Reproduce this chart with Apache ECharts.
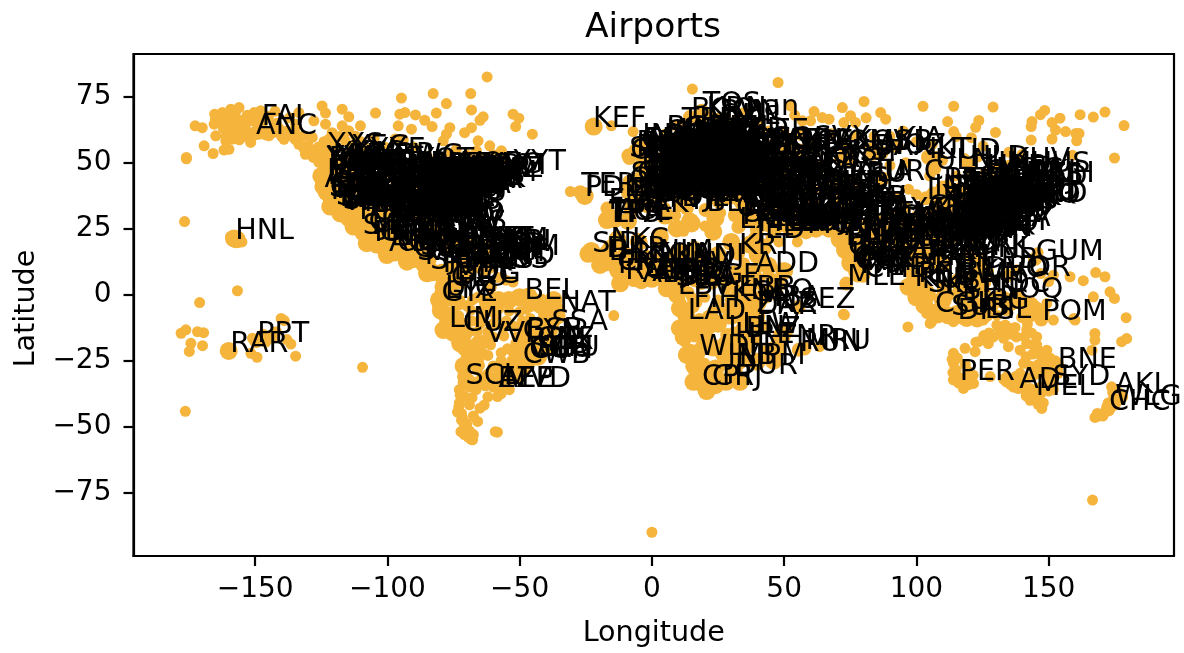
<!DOCTYPE html>
<html><head><meta charset="utf-8">
<style>html,body{margin:0;padding:0;background:#fff}#c{width:1184px;height:653px}</style>
<script src="https://cdn.jsdelivr.net/npm/echarts@6/dist/echarts.min.js"></script>
</head><body><div id="c"></div>
<script>
const xTicks=[-150,-100,-50,0,50,100,150];
const yTicks=[-75,-50,-25,0,25,50,75];
// Labelled airports: code, longitude, latitude
const labelsNorthAmerica=[["FAI",-147.9,64.8],["ANC",-150,61.2],["HNL",-157.9,21.3],["YEG",-113.6,53.3],["YWG",-97.2,49.9],["YYT",-52.7,47.6],["YUL",-73.7,45.5],["YYZ",-79.6,43.7],["YVR",-123.2,49.2],["YYC",-114,51.1],["YOW",-75.7,45.3],["YHZ",-63.5,44.9],["YQB",-71.4,46.8],["YQT",-89.3,48.4],["YXE",-106.7,52.2],["YQR",-104.7,50.4],["SEA",-122.3,47.4],["PDX",-122.6,45.6],["SFO",-122.4,37.6],["OAK",-122.2,37.7],["SJC",-121.9,37.4],["SMF",-121.6,38.7],["LAX",-118.4,33.9],["ONT",-117.6,34.1],["SAN",-117.2,32.7],["LAS",-115.2,36.1],["PHX",-112,33.4],["TUS",-110.9,32.1],["SLC",-112,40.8],["BOI",-116.2,43.6],["GEG",-117.5,47.6],["MSO",-114.1,46.9],["BIL",-108.5,45.8],["RNO",-119.8,39.5],["FAT",-119.7,36.8],["DEN",-104.7,39.9],["COS",-104.7,38.8],["ABQ",-106.6,35],["ELP",-106.4,31.8],["RAP",-103.1,44],["BIS",-100.7,46.8],["FAR",-96.8,46.9],["FSD",-96.7,43.6],["OMA",-95.9,41.3],["DSM",-93.7,41.5],["MSP",-93.2,44.9],["MCI",-94.7,39.3],["ICT",-97.4,37.6],["OKC",-97.6,35.4],["TUL",-95.9,36.2],["DFW",-97,32.9],["DAL",-96.9,32.8],["AUS",-97.7,30.2],["SAT",-98.5,29.5],["IAH",-95.3,30],["HOU",-95.3,29.6],["MSY",-90.3,30],["BTR",-91.1,30.5],["LIT",-92.2,34.7],["MEM",-90,35],["STL",-90.4,38.7],["ORD",-87.9,42],["MDW",-87.8,41.8],["MKE",-87.9,42.9],["MSN",-89.3,43.1],["GRR",-85.5,42.9],["DTW",-83.4,42.2],["IND",-86.3,39.7],["CVG",-84.7,39],["SDF",-85.7,38.2],["BNA",-86.7,36.1],["BHM",-86.8,33.6],["ATL",-84.4,33.6],["JAX",-81.7,30.5],["MCO",-81.3,28.4],["TPA",-82.5,28],["RSW",-81.8,26.5],["PBI",-80.1,26.7],["FLL",-80.2,26.1],["MIA",-80.3,25.8],["CHS",-80,32.9],["CLT",-80.9,35.2],["RDU",-78.8,35.9],["ORF",-76.2,36.9],["RIC",-77.3,37.5],["DCA",-77,38.9],["IAD",-77.5,38.9],["BWI",-76.7,39.2],["PHL",-75.2,39.9],["PIT",-80.2,40.5],["CMH",-82.9,40],["CLE",-81.8,41.4],["BUF",-78.7,42.9],["ROC",-77.7,43.1],["SYR",-76.1,43.1],["ALB",-73.8,42.7],["EWR",-74.2,40.7],["JFK",-73.8,40.6],["LGA",-73.9,40.8],["BDL",-72.7,41.9],["BOS",-71,42.4],["PVD",-71.4,41.7],["PWM",-70.3,43.6],["BTV",-73.2,44.5],["BGR",-68.8,44.8],["SJD",-109.7,23.2],["PVR",-105.3,20.7],["GDL",-103.3,20.5],["MTY",-100.1,25.8],["MEX",-99.1,19.4],["ACA",-99.8,16.8],["CUN",-86.9,21],["MID",-89.7,21],["HAV",-82.4,23],["MBJ",-77.9,18.5],["KIN",-76.8,17.9],["NAS",-77.5,25],["PAP",-72.3,18.6],["SDQ",-69.7,18.4],["PUJ",-68.4,18.6],["SJU",-66,18.4],["STT",-65,18.3],["SXM",-63.1,18],["ANU",-61.8,17.1],["PTP",-61.5,16.3],["DOM",-61.3,15.5],["FDF",-61,14.6],["BGI",-59.5,13.1],["POS",-61.3,10.6],["GUA",-90.5,14.6],["SAL",-89.1,13.4],["SAP",-87.9,15.5],["TGU",-87.2,14.1],["MGA",-86.2,12.1],["SJO",-84.2,10],["PTY",-79.4,9.1]];
const labelsUsExtra=[["ACV",-124.1,41],["MFR",-122.9,42.4],["EUG",-123.2,44.1],["RDM",-121.2,44.3],["PSC",-119.1,46.3],["YKM",-120.5,46.6],["BLI",-122.5,48.8],["SBA",-119.8,34.4],["PSP",-116.5,33.8],["BUR",-118.4,34.2],["SNA",-117.9,33.7],["MRY",-121.8,36.6],["IDA",-112,43.5],["TWF",-114.5,42.5],["BZN",-111.2,45.8],["GTF",-111.4,47.5],["HLN",-112,46.6],["JAC",-110.7,43.6],["COD",-109,44.5],["CPR",-106.5,42.9],["GJT",-108.5,39.1],["ASE",-106.9,39.2],["FLG",-111.7,35.1],["SAF",-106.1,35.6],["AMA",-101.7,35.2],["LBB",-101.8,33.7],["MAF",-102.2,31.9],["LAN",-84.6,42.8],["TVC",-85.6,44.7],["MQT",-87.4,46.5],["DLH",-92.2,46.8],["GRB",-88.1,44.5],["ATW",-88.5,44.3],["CID",-91.7,41.9],["PIA",-89.7,40.7],["SPI",-89.7,39.8],["EVV",-87.5,38],["LEX",-84.6,38],["TYS",-84,35.8],["CHA",-85.2,35],["GSP",-82.2,34.9],["SAV",-81.2,32.1],["AGS",-82,33.4],["CAE",-81.1,33.9],["GSO",-79.9,36.1],["ROA",-80,37.3],["CRW",-81.6,38.4],["DAY",-84.2,39.9],["CAK",-81.4,40.9],["ERI",-80.2,42.1],["MDT",-76.8,40.2],["ABE",-75.4,40.7],["AVP",-75.7,41.3],["HPN",-73.7,41.1],["ISP",-73.1,40.8],["MHT",-71.4,42.9],["ACK",-70.1,41.3],["JAN",-90.1,32.3],["MOB",-88.2,30.7],["PNS",-87.2,30.5],["VPS",-86.5,30.5],["TLH",-84.4,30.4],["SRQ",-82.6,27.4],["EYW",-81.8,24.6],["SHV",-93.8,32.4],["LFT",-92,30.2],["CRP",-97.5,27.8],["HRL",-97.7,26.2],["MFE",-98.2,26.2],["XNA",-94.3,36.3],["SGF",-93.4,37.2],["YQG",-83,42.3],["YHM",-79.9,43.2],["YXU",-81.2,43],["YSB",-81,46.6],["YQM",-64.7,46.1],["YYG",-63.1,46.3],["YFC",-66.5,45.9],["YLW",-119.4,49.9],["YXS",-122.7,53.9],["YYJ",-123.4,48.6],["YKA",-120.4,50.7],["TIJ",-117,32.5],["HMO",-111,29.1],["CUU",-106,28.7],["CUL",-107.5,24.8],["MZT",-106.3,23.2],["BJX",-101.5,20.9],["TAM",-97.9,22.3],["VER",-96.2,19.1],["OAX",-96.7,17],["TGZ",-93,16.8],["BZE",-88.3,17.5],["RTB",-86.5,16.3],["SKB",-62.7,17.3],["UVF",-61,13.7],["GND",-61.8,12],["CUR",-69,12.2],["AUA",-70,12.5]];
const labelsSouthAmerica=[["BOG",-74.1,4.7],["MDE",-75.4,6.2],["CLO",-76.4,3.5],["CTG",-75.5,10.4],["BAQ",-74.8,10.9],["CCS",-67,10.6],["MAR",-71.7,10.6],["UIO",-78.4,-0.1],["GYE",-79.9,-2.2],["LTX",-78.6,-0.9],["LIM",-77.1,-12],["CUZ",-71.9,-13.5],["VVI",-63.1,-17.6],["SCL",-70.8,-33.4],["EZE",-58.5,-34.8],["AEP",-58.4,-34.6],["MVD",-56,-34.8],["BEL",-48.5,-1.4],["NAT",-35.3,-5.8],["SSA",-38.3,-12.9],["BSB",-47.9,-15.9],["GIG",-43.2,-22.8],["SDU",-43.2,-22.9],["GRU",-46.5,-23.4],["CGH",-46.7,-23.6],["VCP",-47.1,-23],["CNF",-43.9,-19.6],["CWB",-49.2,-25.5],["GYN",-49.2,-16.6],["VIX",-40.3,-20.3]];
const labelsEurope=[["KEF",-22.6,64],["TER",-27.1,38.8],["PDL",-25.7,37.7],["LIS",-9.1,38.8],["OPO",-8.7,41.2],["FAO",-8,37],["FNC",-16.8,32.7],["TFS",-16.6,28],["TFN",-16.3,28.5],["LPA",-15.4,28],["FUE",-13.9,28.5],["ACE",-13.6,29],["SID",-22.9,16.7],["DUB",-6.3,53.4],["ORK",-8.5,51.8],["SNN",-8.9,52.7],["BFS",-6.2,54.7],["GLA",-4.4,55.9],["EDI",-3.4,55.9],["ABZ",-2.2,57.2],["INV",-4,57.5],["NCL",-1.7,55],["MAN",-2.3,53.4],["LPL",-2.8,53.3],["BHX",-1.7,52.5],["BRS",-2.7,51.4],["LHR",-0.5,51.5],["LGW",-0.2,51.1],["STN",0.2,51.9],["LTN",-0.4,51.9],["CWL",-3.3,51.4],["AMS",4.8,52.3],["RTM",4.4,51.9],["BRU",4.5,50.9],["CRL",4.5,50.5],["LUX",6.2,49.6],["CDG",2.5,49],["ORY",2.4,48.7],["NTE",-1.6,47.2],["BOD",-0.7,44.8],["TLS",1.4,43.6],["LYS",5.1,45.7],["MRS",5.2,43.4],["NCE",7.2,43.7],["GVA",6.1,46.2],["ZRH",8.5,47.5],["BSL",7.5,47.6],["BIO",-2.9,43.3],["MAD",-3.6,40.5],["BCN",2.1,41.3],["VLC",-0.5,39.5],["ALC",-0.6,38.3],["SVQ",-5.9,37.4],["AGP",-4.5,36.7],["PMI",2.7,39.6],["IBZ",1.4,38.9],["CMN",-7.6,33.4],["RAK",-8,31.6],["TNG",-5.9,35.7],["ALG",3.2,36.7],["ORN",-0.6,35.6],["TUN",10.2,36.9],["DJE",10.8,33.9],["TIP",13.2,32.7],["BEN",20.3,32.1],["MLA",14.5,35.9],["FCO",12.2,41.8],["CIA",12.6,41.8],["MXP",8.7,45.6],["LIN",9.3,45.4],["BGY",9.7,45.7],["VCE",12.4,45.5],["BLQ",11.3,44.5],["NAP",14.3,40.9],["PMO",13.1,38.2],["CTA",15.1,37.5],["CAG",9.1,39.3],["FRA",8.6,50],["MUC",11.8,48.4],["STR",9.2,48.7],["CGN",7.1,50.9],["DUS",6.8,51.3],["HAM",10,53.6],["HAJ",9.7,52.5],["TXL",13.3,52.6],["SXF",13.5,52.4],["LEJ",12.2,51.4],["NUE",11.1,49.5],["VIE",16.6,48.1],["SZG",13,47.8],["INN",11.3,47.3],["PRG",14.3,50.1],["BRQ",16.7,49.2],["WAW",21,52.2],["KRK",19.8,50.1],["GDN",18.5,54.4],["WRO",16.9,51.1],["BUD",19.3,47.4],["BTS",17.2,48.2],["LJU",14.5,46.2],["ZAG",16.1,45.7],["BEG",20.3,44.8],["SJJ",18.3,43.8],["DBV",18.3,42.6],["TIA",19.7,41.4],["SKP",21.6,42],["SOF",23.4,42.7],["VAR",27.8,43.2],["OTP",26.1,44.6],["CLJ",23.7,46.8],["KIV",28.9,46.9],["ATH",23.9,37.9],["SKG",23,40.5],["HER",25.2,35.3],["RHO",28.1,36.4],["IST",28.8,41],["SAW",29.3,40.9],["ESB",33,40.1],["AYT",30.8,36.9],["ADB",27.2,38.3],["ADA",35.3,37],["LCA",33.6,34.9],["BGO",5.2,60.3],["SVG",5.6,58.9],["OSL",11.1,60.2],["TRD",10.9,63.5],["BOO",14.4,67.3],["TOS",18.9,69.7],["KRN",20.3,67.8],["ARN",17.9,59.7],["GOT",12.3,57.7],["MMX",13.4,55.5],["CPH",12.7,55.6],["BLL",9.2,55.7],["AAL",10,57.1],["HEL",25,60.3],["OUL",25.4,64.9],["RVN",25.8,66.6],["TLL",24.8,59.4],["RIX",23.9,56.9],["VNO",25.3,54.6],["MSQ",28,53.9],["LED",30.3,59.8],["KGD",20.6,54.9],["nan",35,68.5],["AER",39.9,43.4],["KRR",39.2,45],["ROV",39.8,47.3],["MRV",43.1,44.2],["VOG",44.3,48.8],["SVO",37.4,56],["DME",37.9,55.4],["VKO",37.3,55.6],["KBP",30.9,50.3],["IEV",30.5,50.4],["ODS",30.9,46.4],["DNK",35.1,48.4],["SIP",34.1,45.1],["KUF",50.2,53.5],["KZN",49.3,55.6],["UFA",55.9,54.6],["GOJ",44,56.2],["SVX",60.8,56.7],["CEK",61.5,55.3],["OMS",73.3,55],["KSF",75,51.2],["OVB",82.7,55],["KJA",92.5,56.2],["TBS",44.9,41.7],["EVN",44.4,40.1],["GYD",50,40.5],["ASB",58.4,38],["TAS",69.3,41.3],["ALA",77,43.4],["TSE",71.5,51],["FRU",74.5,43.1],["URC",87.5,43.9],["KRO",64,48.6]];
const labelsEuropeExtra=[["DTM",7.6,51.5],["PAD",8.6,51.6],["FMO",7.7,52.1],["BRE",8.8,53],["DRS",13.8,51.1],["FDH",9.5,47.7],["EIN",5.4,51.5],["MST",5.8,50.9],["ANR",4.5,51.2],["LIL",3.1,50.6],["BES",-4.4,48.4],["RNS",-1.7,48.1],["BIQ",-1.5,43.5],["MPL",4,43.6],["AJA",8.8,41.9],["BIA",9.5,42.6],["OLB",9.5,40.9],["TRN",7.6,45.2],["GOA",8.8,44.4],["PSA",10.4,43.7],["FLR",11.2,43.8],["BRI",16.8,41.1],["BDS",17.9,40.7],["SPU",16.3,43.5],["ZAD",15.3,44.1],["PUY",13.9,44.9],["TGD",19.3,42.4],["PRN",21,42.6],["TSR",21.3,45.8],["IAS",27.6,47.2],["LWO",23.9,49.8],["KTW",19,50.5],["POZ",16.8,52.4],["RZE",22,50.1],["KSC",21.2,48.7],["OSR",18.1,49.7],["GRZ",15.4,47],["KLU",14.3,46.6],["LNZ",14.2,48.2],["VBY",18.3,57.7],["NRK",16.3,58.6],["BMA",17.9,59.4],["LPI",15.7,58.4],["LEI",-2.4,36.8],["GRX",-3.8,37.2],["SCQ",-8.4,42.9],["OVD",-6,43.6],["SDR",-3.8,43.4],["ZAZ",-1,41.7],["MAH",4.2,39.9],["XRY",-6.1,36.7],["HAU",5.2,59.3],["KRS",8.1,58.2],["TKU",22.3,60.5],["KVD",47,40.7],["ASF",48,46.3],["VOZ",39.2,51.8],["CEE",37.9,59.3],["MCX",47.7,43],["GRV",45.7,43.3],["STW",42.1,45.1],["GDZ",38,44.6],["NBC",52.1,55.6],["BAX",83.6,53.4],["NOZ",86.9,53.8],["SKD",67,39.7],["BHK",64.5,39.8],["DYU",68.8,38.5],["AKX",57.2,50.2],["GUW",51.8,47.1],["SCO",51.1,43.9],["URA",51.5,51.2],["CIT",69.5,42.4]];
const labelsMiddleEastAfrica=[["BEY",35.5,33.8],["DAM",36.5,33.4],["AMM",36,31.7],["TLV",34.9,32],["CAI",31.4,30.1],["HRG",33.8,27.2],["SSH",34.4,28],["LXR",32.7,25.7],["BGW",44.2,33.3],["EBL",44,36.2],["THR",51.3,35.7],["IKA",51.2,35.4],["MHD",59.6,36.2],["SYZ",52.6,29.5],["KWI",48,29.2],["BAH",50.6,26.3],["DMM",49.8,26.5],["DOH",51.6,25.3],["AUH",54.6,24.4],["DXB",55.4,25.3],["SHJ",55.5,25.3],["MCT",58.3,23.6],["RUH",46.7,25],["JED",39.2,21.7],["MED",39.7,24.6],["KRT",32.6,15.6],["ADD",38.8,9],["NKC",-16,18.1],["DKR",-17.5,14.7],["BJL",-16.7,13.3],["CKY",-13.6,9.6],["FNA",-13.2,8.6],["ROB",-10.4,6.2],["ABJ",-3.9,5.3],["BKO",-8,12.5],["OUA",-1.5,12.4],["ACC",-0.2,5.6],["LFW",1.3,6.2],["COO",2.4,6.4],["NIM",2.2,13.5],["LOS",3.3,6.6],["ABV",7.3,9],["KAN",8.5,12],["PHC",7,5],["DLA",9.7,4],["NSI",11.6,3.7],["NDJ",15,12.1],["BGF",18.5,4.4],["LBV",9.4,0.5],["SSG",8.7,3.8],["FIH",15.4,-4.4],["LAD",13.2,-8.9],["KGL",30.1,-2],["EBB",32.4,0],["NBO",36.9,-1.3],["MBA",39.6,-4],["ZNZ",39.2,-6.2],["DAR",39.2,-6.9],["SEZ",55.5,-4.7],["LUN",28.5,-15.3],["LLW",33.8,-14],["BLZ",35,-15.7],["HRE",31.1,-17.9],["TNR",47.5,-18.8],["MRU",57.7,-20.4],["RUN",55.5,-20.9],["WDH",17.5,-22.5],["JNB",28.2,-26.1],["MPM",32.6,-25.9],["DUR",31.1,-29.6],["GRJ",22.4,-34],["CPT",18.6,-34]];
const labelsAsiaPacific=[["KBL",69.2,34.6],["ISB",73.1,33.6],["LHE",74.4,31.5],["KHI",67.2,24.9],["DEL",77.1,28.6],["ATQ",74.8,31.7],["JAI",75.8,26.8],["AMD",72.6,23.1],["BOM",72.9,19.1],["GOI",73.8,15.4],["BLR",77.7,13.2],["HYD",78.4,17.2],["MAA",80.2,13],["COK",76.4,10.2],["TRV",76.9,8.5],["CMB",79.9,7.2],["MLE",73.5,4.2],["CCU",88.4,22.7],["KTM",85.4,27.7],["DAC",90.4,23.8],["RGN",96.1,17],["MDL",95.9,21.7],["LXA",90.9,29.3],["BKK",100.7,13.7],["DMK",100.6,13.9],["CNX",99,18.8],["HKT",98.3,8.1],["VTE",102.6,18],["PNH",104.8,11.5],["REP",103.8,13.4],["SGN",106.7,10.8],["HAN",105.8,21.2],["DAD",108.2,16],["KUL",101.7,2.7],["PEN",100.3,5.3],["SIN",104,1.4],["CGK",106.7,-6.1],["SUB",112.8,-7.4],["DPS",115.2,-8.7],["UPG",119.6,-5.1],["KNO",98.9,3.6],["BPN",116.9,-1.3],["KCH",110.3,1.5],["BWN",114.9,4.9],["BKI",116.1,5.9],["SOQ",131.3,-0.9],["MDC",124.9,1.5],["DVO",125.6,7.1],["CEB",124,10.3],["MNL",121,14.5],["CRK",120.6,15.2],["KMG",102.9,25],["CTU",104,30.6],["CKG",106.6,29.7],["XIY",108.8,34.4],["LHW",103.6,36.5],["INC",106.4,38.3],["HET",111.8,40.9],["PEK",116.6,40.1],["TSN",117.3,39.1],["TNA",117.2,36.9],["TAO",120.4,36.3],["CGO",113.8,34.5],["WUH",114.2,30.8],["CSX",113.2,28.2],["KHN",115.9,28.9],["NKG",118.9,31.7],["HGH",120.4,30.2],["PVG",121.8,31.1],["SHA",121.3,31.2],["XMN",118.1,24.5],["FOC",119.7,26],["CAN",113.3,23.4],["SZX",113.8,22.6],["HKG",113.9,22.3],["MFM",113.6,22.1],["NNG",108.2,22.6],["KWL",110.3,25.2],["HAK",110.5,19.9],["SYX",109.4,18.3],["TPE",121.2,25.1],["KHH",120.4,22.6],["OKA",127.6,26.2],["SHE",123.5,41.6],["DLC",121.5,38.9],["CGQ",125.7,43.9],["HRB",126.2,45.6],["HLD",119.8,49.2],["ULN",106.8,47.8],["IKT",104.4,52.3],["UUD",107.4,51.8],["KHV",135.2,48.5],["UUS",142.7,47],["VVO",132.1,43.4],["FNJ",125.7,39.2],["ICN",126.5,37.5],["GMP",126.8,37.6],["PUS",128.9,35.2],["CJU",126.5,33.5],["CTS",141.7,42.8],["HKD",140.8,41.8],["SDJ",140.9,38.1],["NRT",140.4,35.8],["HND",139.8,35.6],["NGO",136.8,34.9],["KIX",135.2,34.4],["ITM",135.4,34.8],["HIJ",132.9,34.4],["FUK",130.5,33.6],["KOJ",130.7,31.8],["GUM",144.8,13.5],["ROR",134.5,7.4],["POM",147.2,-9.4],["PER",116,-31.9],["ADL",138.5,-34.9],["MEL",144.8,-37.7],["SYD",151.2,-33.9],["BNE",153.1,-27.4],["AKL",174.8,-37],["WLG",174.8,-41.3],["CHC",172.5,-43.5],["PPT",-149.6,-17.6],["RAR",-159.8,-21.2]];
const labelsAsiaExtra=[["BAV",109.9,40.6],["TYN",112.6,37.7],["SJW",114.7,38.3],["YNT",121.4,37.4],["WEH",122.2,37.2],["LYG",119.1,34.6],["NTG",120.9,32.1],["WUX",120.4,31.5],["HFE",117.3,31.8],["NGB",121.5,29.8],["WNZ",120.9,27.9],["KWE",106.8,26.5],["LJG",100.2,26.7],["JHG",100.8,22],["DLU",100.3,25.6],["ZUH",113.4,22],["SWA",116.8,23.6],["XUZ",117.6,34],["LYA",112.4,34.7],["HIA",119,33.8],["YIH",111.5,30.6],["TXN",118.3,29.7],["DYG",110.4,29.1],["JJN",118.6,24.8],["RMQ",120.6,24.3],["TNN",120.2,22.9],["KMQ",136.4,36.4],["KMJ",130.9,32.8],["NGS",129.9,32.9],["KMI",131.4,31.9],["TAK",134,34.2],["MYJ",132.7,33.8],["OIT",131.7,33.5],["AOJ",140.7,40.7],["AKJ",142.4,43.7],["KUH",144.2,43],["CJJ",127.5,36.7],["TAE",128.6,35.9],["KWJ",126.8,35.1],["RSU",127.6,34.8],["MDG",129.6,44.5],["JMU",130.5,46.8],["YNJ",129.5,42.9],["KIJ",139.1,37.9],["ISG",124.2,24.3],["MMY",125.3,24.8],["DIL",125.5,-8.5],["VTZ",83.2,17.7],["BBI",85.8,20.2],["IXR",85.3,23.3],["PAT",85.1,25.6],["LKO",80.9,26.8],["VNS",83,25.5],["GAU",91.6,26.1],["CGP",91.8,22.2],["CJB",77,11],["IXM",78.1,9.8],["TRZ",78.7,10.8],["CCJ",75.9,11.1],["IXE",74.9,12.9],["NAG",79,21.1],["PNQ",73.9,18.6],["SXR",74.8,34],["PEW",71.5,34],["UET",66.9,30.3],["MUX",71.4,30.2],["KDH",65.9,31.5],["HEA",62.2,34.2],["ZAH",60.9,29.5],["BND",56.4,27.2],["TBZ",46.2,38.1],["ISF",51.9,32.8],["AWZ",48.8,31.3],["BSR",47.7,30.5],["ALP",37.2,36.2],["LTK",35.9,35.4],["AQJ",35,29.6],["TUU",36.6,28.4],["ELQ",44,26.3],["AAN",55.6,24.3],["RKT",55.9,25.6]];
const pointsLabelled=[].concat(labelsNorthAmerica,labelsUsExtra,labelsSouthAmerica,labelsEurope,labelsEuropeExtra,labelsMiddleEastAfrica,labelsAsiaPacific,labelsAsiaExtra);
// Unlabelled airports: longitude, latitude
const pointsArctic=[[-172.7,64],[-170,63.3],[-169.3,56.4],[-165.9,53.5],[-176,51.5],[-165.3,68.4],[-162.4,69],[-159.2,70.3],[-156.1,70.9],[-165.5,64.6],[-164.9,60.2],[-161.1,65.2],[-157.4,67.1],[-157.4,62.1],[-161.1,58.3],[-161.8,54.8],[-159.9,55.1],[-151.7,57.7],[-150.4,69],[-147.9,69.7],[-151.7,65.9],[-152.3,61.4],[-148.6,60.8],[-144.8,60.2],[-139.1,58.9],[-136,60.2],[-133.5,69],[-134.7,64.6],[-133.5,57],[-131,53.2],[-127.2,54.5],[-127.8,65.9],[-123.4,64.6],[-124.7,71.5],[-123.4,68.8],[-128.4,59.6],[-120.9,61.4],[-117.1,70.3],[-114.6,67.4],[-104.5,68.8],[-117.1,64],[-110.2,64],[-114.6,62.1],[-125.9,50.1],[-122.1,54.5],[-163,66],[-160,67],[-158,64],[-155,66],[-154,60],[-156,58.7],[-158.5,59],[-162,63],[-146,62],[-142,65],[-141,63],[-135,59],[-131.5,55.4],[-128,52],[-124,58],[-120,57],[-118,60],[-112,60],[-105,59],[-165,66.5],[-163,68],[-161,60],[-160,62.4],[-159,65.8],[-157.5,69],[-156,60.5],[-155,63.4],[-154,64.5],[-153,68],[-153.5,62.5],[-149,67],[-149,63.5],[-147,66],[-146,60.6],[-145,67.5],[-143,61.5],[-142.5,69.5],[-140,60],[-138,62],[-137,67],[-135,62.5],[-132,60],[-130,56.5],[-129,55],[-126,56],[-125.5,53],[-122,59],[-119,55.5],[-116,58.5],[-113,56.5],[-110,58],[-108,55.5],[-101,56],[-97,59],[-94,58.7],[-90,56],[-85,52.5],[-80.5,51.5],[-77,53],[-74,55],[-70,53],[-65,52],[-60,53],[-56,52],[-176.7,27.7],[-156.7,1.5],[-171,-3],[-94.7,74.5],[-82.7,76.2],[-68.5,76.2],[-77.7,72.4],[-68.2,70],[-81.5,68.8],[-95.3,68.4],[-93.4,69],[-89.4,68.1],[-85.9,66.1],[-83.1,63.7],[-95.9,64],[-90.9,62.7],[-76.4,63.3],[-77.7,60.8],[-78.9,58.3],[-70.8,61.4],[-68.2,63.3],[-65.7,58.3],[-65,66.1],[-63.8,67.4],[-66.3,54.5],[-61.3,56.4],[-56.9,54.5],[-52.5,68.4],[-50.3,66.9],[-51.5,63.7],[-45.2,60.8],[-62.3,82.5],[-15.3,64],[-7.1,61.8],[-30.8,39.1],[15.3,77.9],[47.7,80.4],[52.5,71.5],[61.3,69.4],[72,70.9],[80.2,73.2],[64.4,67.1],[75.1,67.8],[72.6,65.2],[77,65.2],[86.5,69],[88.4,66.5],[56.9,65.9],[60,65.9],[54,68],[67,66.5],[81,67],[102.5,71.4],[114.1,71.4],[129,71.1],[111.8,65.6],[123.6,66],[122.4,63.4],[114.1,61.8],[115,59.9],[120.8,59.5],[129.9,61.5],[125.2,56.3],[143.7,65.6],[143.4,63.7],[146.9,68.2],[148.5,69.8],[151.3,65.2],[154.3,66.9],[152.6,62.4],[156.4,61.8],[160.3,61.1],[161.5,61.1],[160.6,58.3],[151.3,59],[143.4,58.6],[161.9,68.2],[166.9,67.3],[171.3,69.2],[178.5,64.1],[174.9,51.8],[159,52.8],[104,51.6],[109.9,50.9],[118.2,51.6],[123.3,52.2],[95,62],[90,60],[84,60],[100,58],[106,57],[77,60],[68,61],[135,54],[140,53.2],[-176,52],[9,64],[22,68],[28,67],[33,67.6],[40,64.6],[44,62],[50,62],[56,60.5]];
const pointsPacific=[[-178,-14.6],[-176.2,-13.3],[-171.8,-14],[-169.5,-14.4],[-174.3,-18.4],[-174.9,-21.5],[-169.9,-19.3],[-151.6,-22.2],[-149.3,-23.7],[-151,-16.5],[-147,-15],[-145,-16],[-142,-14],[-140.2,-9],[-139,-9.8],[-138,-17],[-136.5,-18.7],[-134.7,-23.3],[-146,-18],[-109.4,-27.5],[-176.4,-44.2],[-148,-16],[-143.5,-16.5],[-155,20],[-156.4,20.9],[-159.3,22],[151.8,7.4],[158.1,6.8],[163.1,5.3],[167.8,8.4],[171.3,6.8],[173.2,1.1],[174.9,-1.4],[166.9,-0.8],[150,5],[160,-9.6],[159.5,-9],[179.3,-8.7],[167.5,-14.7],[167.5,-17.2],[166.4,-21],[177.6,-17.8],[179.5,-16.6],[168.2,-46.2],[172,-42.5],[173.8,-34.9],[177,-37.4],[178,-38.7],[175.4,-36.5],[176,-38],[174.5,-39.5],[175,-40.5],[173.5,-41.5],[172.5,-41],[171.5,-44],[170.5,-45.5],[169,-45.5],[168.4,-45],[170.5,-46],[167.5,-46.5],[166.6,-77.8],[0,-90],[96.8,-12.2],[105.7,-10.4],[72.4,-7.4],[-14.4,-7.9],[145.7,15],[146,16],[138,9.5],[147,8],[63.4,-19.7]];
const pointsSouthAmerica=[[-69.7,-21],[-70.3,-26],[-71.6,-31],[-72.8,-36],[-72.8,-41],[-71.6,-46.8],[-72.2,-51.9],[-67.8,-55],[-65.9,-48],[-63.4,-41.8],[-58.4,-38.6],[-53.9,-36],[-58.4,-52.1],[-59.2,-51.9],[-70.4,-18.3],[-70.2,-23.5],[-71.2,-29],[-72.5,-38],[-73,-42.5],[-72,-45],[-70.9,-53],[-69,-51.6],[-68.3,-54.8],[-65,-43],[-67.5,-46],[-68,-39],[-66,-33],[-68.8,-32.8],[-65.2,-26.8],[-65.5,-24.8],[-64.2,-31.3],[-61,-33],[-57,-37.5],[-62,-38.7],[-60.5,-31.7],[-58.8,-27.4],[-55.9,-27.4],[-55,-29],[-52,-32],[-53,-27],[-64,-22],[-66,-17.4],[-62,-14],[-65,-11],[-69,-14],[-70.2,-15.5],[-71.5,-16.3],[-75,-14],[-76.3,-13.7],[-78,-10],[-79,-8],[-80.6,-5.2],[-81,-4.5],[-80,-3],[-79,-2],[-75,-6],[-73,-3.8],[-70,-4.2],[-75,-9],[-73,-8],[-68,-10],[-63.9,-8.7],[-67.8,-2],[-66,-1],[-60,-3],[-56,-3],[-55,-2.4],[-51,0],[-52.5,4.8],[-55.2,5.5],[-58.2,6.5],[-60.7,2.8],[-63,8],[-64.7,10.1],[-69,10],[-72,8],[-77,0],[-75,1],[-72,4],[-70,6.5],[-76.5,7],[-78,2],[-77.3,1.2],[-79,-4],[-59,-8],[-55,-10],[-52,-12],[-56,-15.6],[-54.6,-20.5],[-50,-20],[-51,-23],[-53,-25],[-48,-21],[-47,-19],[-44,-16],[-42,-10],[-40,-14],[-39,-16],[-39,-3.7],[-42.8,-5],[-44.2,-2.6],[-47.5,-5.5],[-49,-10],[-46,-9],[-37,-11],[-36,-9.5],[-37,-5],[-40,-18],[-41.5,-22],[-50,-26],[-49,-29],[-52.5,-28.5],[-54.8,-33],[-76.5,-2.3],[-72.6,-2.1],[-68.5,-5.8],[-64,-5.8],[-62,-6.5],[-58,-5.5],[-54,-6.2],[-50,-6.4],[-46,-4.6],[-41,-7.2],[-38.5,-7.6],[-72,-10.5],[-64,-10],[-60,-11],[-56,-12.5],[-48,-12.5],[-44,-11.8],[-40.2,-10.4],[-74,-13],[-66,-14],[-60,-16],[-51,-16],[-46,-14.5],[-42.5,-13.5],[-66,-19.5],[-61,-19],[-51.5,-18.5],[-45,-18],[-68,-22.5],[-62,-23],[-57,-22],[-52.6,-21.7],[-46,-22],[-69,-26],[-66,-28.5],[-60,-27],[-57,-25],[-70,-30.5],[-62,-30],[-58,-30],[-69,-35],[-66.5,-36],[-63,-34.5],[-60,-35],[-71,-38.5],[-69,-41.7],[-72,-47.5],[-70,-49],[-71,-50.5],[-73.5,-44.5],[-67.5,-53],[-69.5,-54]];
const pointsBigCoast=[[-125,45],[-124.2,41],[-123,39],[-121.6,33.4],[-121,35.5],[-117.8,30.8],[-116.5,31],[-114.5,29],[-112.8,25.8],[-112,28],[-110,25.5],[-108,23],[-107.8,19.5],[-105.5,21],[-104,19],[-101,17.5],[-100.2,15],[-97,16],[-94,16],[-92.6,12.5],[-92,14.7],[-90,13.5],[-86,11.5],[-85,8.1],[-83,8.5],[-80,8],[-78.8,3],[-78,7.5],[-77,3],[-79,0],[-80.5,-2],[-79.8,-6],[-78.8,-13.4],[-77,-10],[-75,-14.5],[-72.5,-18.4],[-72,-17],[-70.5,-20],[-71.2,-27],[-62,-3],[-58,-2],[-54,-2],[-50,-1],[-46.6,-0.7],[-42,-3],[-38,-4.5],[-37.2,-2],[-36,-8],[-38.5,-13],[-40.5,-20],[-43,-23.5],[-47,-25],[-49,-28],[-51,-30.5],[-56,-33],[-70,-33],[-67,-24],[-67,-20],[-72,-13],[-19.6,11.3],[-16.5,16],[-14,13],[-12,10],[-12,4.3],[-8,7],[-4,5.5],[0,6],[4,7],[5.6,2.4],[8,5],[10,3],[9.5,0],[10.6,-5.2],[10.6,-12.7],[13,-8],[13.5,-12],[12,-16],[13.2,-22.8],[14.5,-22],[15.7,-33],[16,-27],[18.2,-33],[20,-34.5],[20.7,-36.5],[24,-34.3],[28,-33],[31,-29.5],[33,-25],[33.3,-33],[35,-20],[39.6,-25.4],[38,-16],[40.5,-12],[39.5,-8],[40,-3],[43,0],[47,4],[50,9],[44,11],[40,15],[37,19],[-25.4,37.4],[-22,63.7],[-160,-21.3],[-158,21.3],[-157,21],[-22.9,16.6],[-24,15.5],[-17,28.3],[-14,28.7],[143,-7],[147,-7],[143,-4],[138,-2],[133,-2],[128,-3.5],[123,-9],[119,-8.8],[112,-7.8],[108,-7.5],[106,-6.8],[103,-4],[100,-1],[97,3],[104,0],[110,-2],[117,1],[118,5],[122,7],[125,5],[126,9],[123,13],[121,17],[110,12],[108,15],[106,19],[101,8],[99,12],[97,16],[93,20],[90,22],[86,20],[82,17],[80,11],[78,8],[75,12],[73,17],[71,21],[67,25],[62,25],[57,26],[52,27],[44,31],[40,28],[42,18],[34,8],[37,4],[30,5],[24,8],[20,12],[16,17],[25,15],[30,20],[6,13],[10,16],[3,22],[-5,20],[-10,15],[-13,21],[-9,28],[5,30],[15,27],[24,29],[30,-8],[25,-11],[22,-9],[18,-12],[20,-17],[23,-20],[27,-22],[30,-20],[24,-28],[21,-29],[35,-13],[37,-8],[34,-4],[47,-21],[49,-16],[44,-22],[46,-25],[50,-14],[9.4,25.1],[14.4,27.7],[23.2,23.9]];
const pointsLand=[[-110,30],[-112,32],[-107,26],[-106,28],[-104,24],[-101,22],[-98,22],[-96,19],[-93,18],[-91,19],[-89,16.5],[-85,15],[-83.5,13],[-75.7,20],[-80,22],[-72,19.5],[-66.5,18],[-63,15],[-61,12],[-68.9,12.2],[-70,12.5],[-78,24],[-75,23],[-72,21.5],[-2,33],[5,33],[9,30],[12,24],[20,26],[26,31],[-12,12],[-4,10],[2,10],[12,8],[18,8],[23,4],[28,2],[31,9],[35,12],[41,6],[44,8],[38,0],[35,1],[31,-5],[27,-5],[23,-6],[17,-3],[14,1],[7,8],[0,10],[-6,14],[-2,15],[60,27],[56,32],[50,31],[46,28],[52,24],[48,20],[45,22],[55,20],[60,33],[65,30],[70,28],[75,22],[80,24],[84,26],[78,20],[83,20],[87,27],[92,26],[95,27],[98,25],[100,22],[102,20],[104,16],[100,16],[100,30],[96,33],[92,37],[84,39],[80,37],[76,39],[97,40],[100,38],[105,45],[115,45],[90,49],[96,50],[120,47],[130,48],[136,46],[102,4],[110,3],[113,0],[115,-6],[121,0],[123,-3],[122,-5],[120,-9],[125,-8.5],[127,-8],[129,-4],[134,-6],[126,1],[128,-1],[136,-4],[141,-6],[146,-6],[105.2,-10.9],[114,-10.2],[109,-7.1],[103.9,-7.1],[117.8,-8.4],[125.3,-9.6],[130.4,-7.7],[144.2,-7],[151.8,-9.6],[149.3,-3.3],[145.5,-4.6],[139.2,-2],[-17,11],[-14,9],[-11,6],[-7,5],[-3,5],[1,6],[5,5],[8,4],[10,1],[11,-3],[12,-7],[13,-11],[12,-14],[12.5,-18],[14,-21],[15,-26],[16,-30],[18,-33],[20,-36],[24,-35],[28,-33],[30,-30],[33,-26],[35,-23],[36,-19],[38,-15],[40,-10],[40,-5],[24,-30],[20,-26],[18,-20],[16,-16],[18,-9],[22,-13],[27,-18],[31,-14],[34,-10],[29,-6],[25,-2],[20,-1],[15,-1],[16,5],[22,7],[28,5],[32,2],[36,3],[42,2],[46,6],[-5,8],[-9,10],[-2,8],[3,8],[9,9],[13,11],[-15,12],[48,-15],[47,-18],[45,-20],[44.5,-24],[49,-18],[50,-15],[72.8,-7.6]];
const pointsAustralia=[[114,-22.2],[118.4,-20.3],[122.2,-21.6],[114,-26],[114,-32.3],[117.8,-35.5],[121.6,-33.6],[127.9,-31],[134.2,-31],[134.8,-19.7],[123.5,-17.8],[127.2,-18.5],[129.1,-16],[130.4,-11.5],[135.4,-12.8],[137.3,-12.4],[141.7,-9.6],[139.8,-8.6],[141.7,-13.4],[141.7,-18.5],[139.2,-21],[140.5,-26],[145.5,-16],[149.3,-21],[153.6,-26],[153.6,-29.8],[147.4,-43.1],[143,-40],[136.7,-35],[132.9,-32],[143,-35.5],[139.2,-29.8],[145.5,-28.6],[150,-33],[151.8,-36],[115.5,-24],[113.5,-24.5],[115,-28.5],[113.8,-29.5],[115,-30.8],[116,-33.5],[119,-31],[120,-34],[118,-33],[119.5,-29],[121.5,-30.5],[118.5,-26.5],[122.5,-18],[125.5,-15.5],[127.5,-14.5],[132,-14.5],[133,-16.5],[131,-12.5],[133.6,-11.5],[136,-15],[137.8,-16],[140.8,-16],[142,-11],[143.5,-14.5],[144,-19],[145.5,-19],[146,-21],[144,-22.5],[141.5,-23.5],[147,-23],[148.5,-25],[146,-26.5],[150.5,-24],[143,-27],[149,-27.5],[151.5,-27.5],[152.5,-25],[151,-30],[149,-31],[147,-30],[144.5,-30.5],[142,-31.5],[140,-33],[137.5,-31],[138.5,-35.5],[141,-36],[143,-37.5],[145,-36],[147,-35],[149,-34.5],[150,-36.5],[147,-37.5],[145.5,-38.5],[141.5,-38.3],[148,-41],[146,-41.5],[135.5,-34],[134,-33]];
const hubSize=14, smallSize=11, coastSize=18;
const orange='#f5b43c';
function rows(a){return a.map(p=>[p[0],p[1]]);}
const chart=echarts.init(document.getElementById('c'),null,{renderer:'canvas'});
const font='DejaVu Sans';
const axisBase={
  axisLine:{show:true,onZero:false,lineStyle:{color:'#000',width:2.2}},
  axisTick:{show:true,length:10,inside:false,lineStyle:{color:'#000',width:2.2}},
  splitLine:{show:false},
  nameLocation:'middle',
  nameTextStyle:{fontFamily:font,fontSize:28.6,color:'#000'}
};
const fmt=v=>String(v).replace('-','\u2212');
chart.setOption({
  animation:false,
  backgroundColor:'#fff',
  title:{text:'Airports',left:648,textAlign:'center',top:6,textStyle:{fontFamily:font,fontSize:34.5,fontWeight:'normal',color:'#000'}},
  grid:{left:133.5,right:10,top:54,bottom:97,show:true,borderColor:'#000',borderWidth:2.2,containLabel:false},
  xAxis:Object.assign({},axisBase,{type:'value',min:-196,max:197.4,name:'Longitude',nameGap:63,
    axisTick:Object.assign({},axisBase.axisTick,{customValues:xTicks}),
    axisLabel:{customValues:xTicks,formatter:fmt,fontFamily:font,fontSize:28,color:'#000',margin:20}}),
  yAxis:Object.assign({},axisBase,{type:'value',min:-99,max:91.2,name:'Latitude',nameGap:89,
    nameTextStyle:{fontFamily:font,fontSize:28.6,color:'#000',padding:[0,7,0,0]},
    axisTick:Object.assign({},axisBase.axisTick,{customValues:yTicks}),
    axisLabel:{customValues:yTicks,formatter:fmt,fontFamily:font,fontSize:28,color:'#000',margin:22}}),
  series:[
    {type:'scatter',name:'coast',symbolSize:coastSize,itemStyle:{color:orange,opacity:1},data:rows(pointsBigCoast),silent:true},
    {type:'scatter',name:'small',symbolSize:smallSize,itemStyle:{color:orange,opacity:1},data:rows([].concat(pointsArctic,pointsPacific,pointsSouthAmerica,pointsLand,pointsAustralia)),silent:true},
    {type:'scatter',name:'labelled',symbolSize:hubSize,itemStyle:{color:orange,opacity:1},data:pointsLabelled.map(p=>[p[1],p[2]]),silent:true},
    {type:'scatter',name:'codes',symbolSize:0.1,z:5,itemStyle:{color:'rgba(0,0,0,0)',opacity:1},silent:true,
      data:pointsLabelled.map(p=>[p[1],p[2],p[0]]),
      labelLayout:{hideOverlap:false},
      label:{show:true,opacity:1,position:[1,7],align:'left',verticalAlign:'bottom',color:'#000',fontFamily:font,fontSize:28.6,lineHeight:27,
        formatter:p=>p.value[2]}}
  ]
});
</script></body></html>
